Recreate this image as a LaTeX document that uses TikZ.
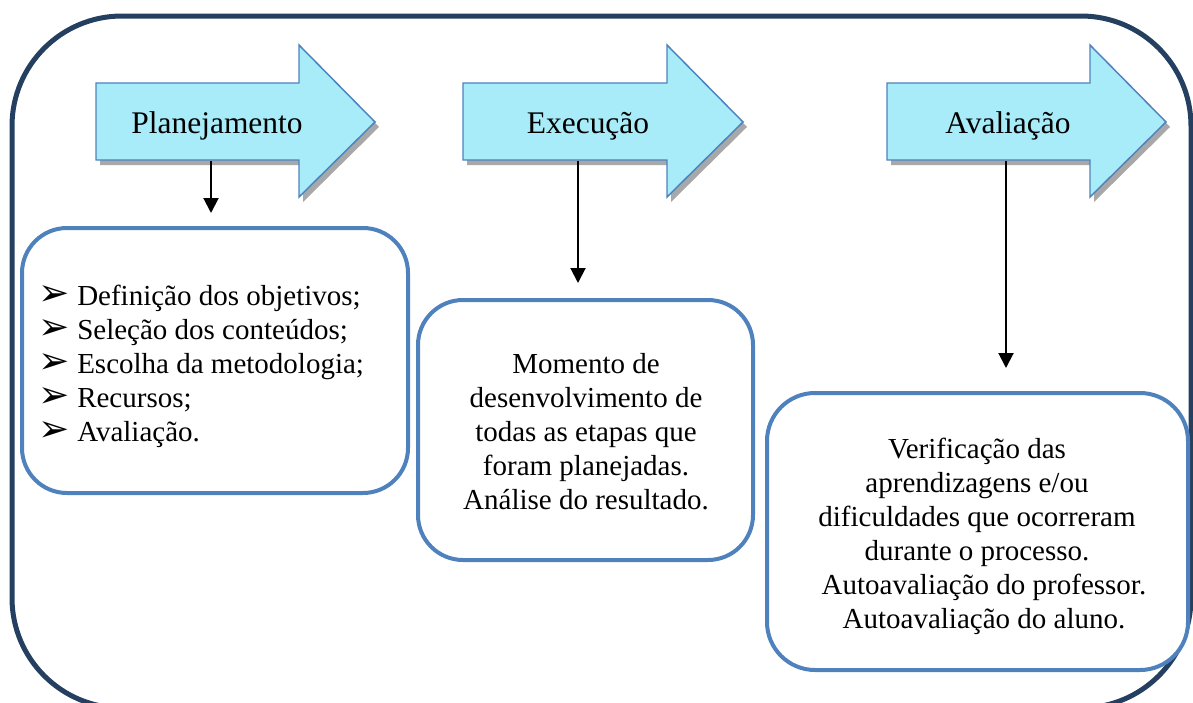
\documentclass[tikz,border=0pt]{standalone}
\usepackage{fontspec}
\setmainfont{Liberation Serif}
\newfontfamily\bulletfont{DejaVu Sans}
\usetikzlibrary{arrows.meta}
\definecolor{navyc}{HTML}{243F60}
\definecolor{accentc}{HTML}{4F81BD}
\definecolor{cyanfill}{HTML}{A7ECF8}
\definecolor{shadowc}{HTML}{A8A8A8}
\newcommand{\stagearrow}[3]{%
  \fill[shadowc] ({#1+4},88) -- ({#2+4},88) -- ({#2+4},50) -- ({#3+4},127) -- ({#2+4},202) -- ({#2+4},165) -- ({#1+4},165) -- cycle;
  \draw[stagearrowstyle] (#1,83) -- (#2,83) -- (#2,45) -- (#3,122) -- (#2,197) -- (#2,160) -- (#1,160) -- cycle;}
\begin{document}
\begin{tikzpicture}[x=0.75pt,y=-0.75pt,
  stagearrowstyle/.style={fill=cyanfill, draw=accentc, line width=1.1pt, line join=miter},
  lab/.style={anchor=base, font=\fontsize{23.6pt}{28pt}\selectfont, inner sep=0pt},
  txt/.style={anchor=base, font=\fontsize{21.75pt}{25.5pt}\selectfont, inner sep=0pt},
  bul/.style={anchor=base west, font=\bulletfont\fontsize{28pt}{30pt}\selectfont, inner sep=0pt},
  box/.style={draw=accentc, line width=3pt, fill=white, rounded corners=33.75pt, inner sep=0pt},
  conn/.style={line width=1.5pt, -{Triangle[width=11.25pt,length=11.25pt]}},
  outer/.style={draw=navyc, line width=3.75pt, rounded corners=82.5pt}]
\useasboundingbox (0,0) rectangle (1193,703);
% outer frame
\draw[outer] (12,16) rectangle (1191,708);
% stage arrows
\stagearrow{96}{299}{375}
\stagearrow{463}{667}{743}
\stagearrow{887}{1090}{1166}
\node[lab] (a1) at (217,133) {Planejamento};
\node[lab] (a2) at (588,133) {Execução};
\node[lab] (a3) at (1008,133) {Avaliação};
% connectors
\coordinate (c1s) at (211,161);
\coordinate (c1e) at (211,213);
\coordinate (c2s) at (578,161);
\coordinate (c2e) at (578,283);
\coordinate (c3s) at (1006,161);
\coordinate (c3e) at (1006,368);
\draw[conn] (c1s) -- (c1e);
\draw[conn] (c2s) -- (c2e);
\draw[conn] (c3s) -- (c3e);
% boxes
\node[box, minimum width=289.5pt, minimum height=198.75pt] (b1) at (215,360.5) {};
\node[box, minimum width=251.25pt, minimum height=195pt] (b2) at (585.5,430) {};
\node[box, rounded corners=36pt, minimum width=315.75pt, minimum height=207.75pt] (b3) at (977.5,531.5) {};
% box 1 list
\foreach \yy [count=\i] in {305,339,373,407,441}
  \node[bul] (k\i) at (38,\yy) {➢};
\node[txt, anchor=base west] (l1) at (77,305) {Definição dos objetivos;};
\node[txt, anchor=base west] (l2) at (77,339) {Seleção dos conteúdos;};
\node[txt, anchor=base west] (l3) at (77,373) {Escolha da metodologia;};
\node[txt, anchor=base west] (l4) at (77,407) {Recursos;};
\node[txt, anchor=base west] (l5) at (77,441) {Avaliação.};
% box 2 text
\node[txt] (m1) at (586,373) {Momento de};
\node[txt] (m2) at (586,407.5) {desenvolvimento de};
\node[txt] (m3) at (586,441.5) {todas as etapas que};
\node[txt] (m4) at (586,475) {foram planejadas.};
\node[txt] (m5) at (586,509) {Análise do resultado.};
% box 3 text
\node[txt] (v1) at (977,458) {Verificação das};
\node[txt] (v2) at (977,492) {aprendizagens e/ou};
\node[txt] (v3) at (977,526) {dificuldades que ocorreram};
\node[txt] (v4) at (977,560) {durante o processo.};
\node[txt] (v5) at (984,594) {Autoavaliação do professor.};
\node[txt] (v6) at (984,628) {Autoavaliação do aluno.};
\end{tikzpicture}
\end{document}
